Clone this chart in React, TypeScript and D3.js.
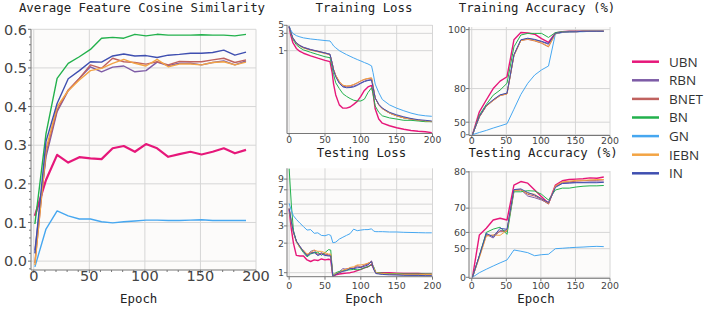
import React from 'react';
import * as d3 from 'd3';

// ---------- data ----------
const seriesNames = ['UBN', 'RBN', 'BNET', 'BN', 'GN', 'IEBN', 'IN'];
const seriesColors = ['#e6177a', '#7d5ba6', '#c0625f', '#22b14c', '#46a7f0', '#f3a444', '#3f4fb0'];

const simEpochs = [1, 11, 21, 31, 41, 51, 61, 71, 81, 91, 101, 111, 121, 131, 141, 151, 161, 171, 181, 191];
const simUBN = [0.117, 0.21, 0.275, 0.255, 0.269, 0.266, 0.264, 0.292, 0.298, 0.283, 0.303, 0.292, 0.27, 0.277, 0.283, 0.276, 0.283, 0.292, 0.279, 0.288];
const simRBN = [0.028, 0.27, 0.387, 0.441, 0.473, 0.503, 0.49, 0.502, 0.505, 0.49, 0.493, 0.515, 0.506, 0.512, 0.512, 0.508, 0.514, 0.518, 0.508, 0.518];
const simBNET = [-0.005, 0.28, 0.391, 0.443, 0.473, 0.508, 0.499, 0.525, 0.516, 0.514, 0.51, 0.516, 0.508, 0.517, 0.516, 0.516, 0.521, 0.525, 0.514, 0.521];
const simBN = [0.096, 0.33, 0.473, 0.512, 0.529, 0.548, 0.577, 0.579, 0.577, 0.587, 0.583, 0.587, 0.585, 0.585, 0.585, 0.586, 0.585, 0.585, 0.583, 0.587];
const simGN = [-0.015, 0.083, 0.13, 0.117, 0.109, 0.109, 0.102, 0.099, 0.102, 0.104, 0.106, 0.106, 0.105, 0.105, 0.106, 0.107, 0.105, 0.105, 0.105, 0.105];
const simIEBN = [-0.01, 0.29, 0.4, 0.441, 0.469, 0.493, 0.499, 0.512, 0.522, 0.512, 0.505, 0.522, 0.503, 0.51, 0.51, 0.508, 0.514, 0.516, 0.508, 0.515];
const simIN = [0.02, 0.31, 0.408, 0.472, 0.493, 0.516, 0.515, 0.531, 0.536, 0.531, 0.532, 0.527, 0.533, 0.535, 0.538, 0.538, 0.54, 0.546, 0.533, 0.541];

const lossEpochs = [0, 2, 5, 10, 15, 20, 30, 40, 50, 57, 60, 62, 65, 70, 75, 80, 85, 90, 95, 100, 105, 110, 115, 117, 120, 125, 130, 140, 150, 160, 170, 180, 190, 199];
const trainLossUBN = [4.6, 2.8, 1.7, 1.15, 0.95, 0.85, 0.72, 0.62, 0.54, 0.5, 0.25, 0.12, 0.06, 0.032, 0.026, 0.026, 0.028, 0.033, 0.04, 0.055, 0.08, 0.1, 0.11, 0.07, 0.025, 0.013, 0.01, 0.0085, 0.0075, 0.0068, 0.0063, 0.006, 0.0058, 0.0055];
const trainLossRBN = [4.6, 3.4, 2.3, 1.65, 1.4, 1.25, 1.08, 0.97, 0.87, 0.8, 0.46, 0.3, 0.2, 0.13, 0.105, 0.1, 0.1, 0.105, 0.115, 0.13, 0.145, 0.155, 0.16, 0.1, 0.05, 0.033, 0.026, 0.019, 0.016, 0.014, 0.013, 0.012, 0.0115, 0.011];
const trainLossBNET = [4.6, 3.3, 2.2, 1.6, 1.35, 1.2, 1.05, 0.95, 0.85, 0.78, 0.45, 0.3, 0.21, 0.14, 0.11, 0.105, 0.107, 0.115, 0.128, 0.145, 0.16, 0.17, 0.175, 0.11, 0.05, 0.032, 0.025, 0.019, 0.016, 0.014, 0.013, 0.012, 0.0115, 0.011];
const trainLossBN = [4.6, 3.2, 2.1, 1.45, 1.2, 1.05, 0.9, 0.78, 0.68, 0.64, 0.35, 0.22, 0.13, 0.09, 0.065, 0.055, 0.048, 0.043, 0.041, 0.041, 0.046, 0.07, 0.095, 0.065, 0.03, 0.02, 0.016, 0.014, 0.013, 0.012, 0.012, 0.0115, 0.011, 0.011];
const trainLossGN = [4.8, 3.8, 3.0, 2.6, 2.4, 2.25, 2.1, 2.0, 1.9, 1.85, 1.55, 1.35, 1.2, 1.0, 0.88, 0.78, 0.7, 0.63, 0.57, 0.52, 0.47, 0.43, 0.38, 0.25, 0.12, 0.07, 0.045, 0.032, 0.026, 0.022, 0.019, 0.017, 0.016, 0.0155];
const trainLossIEBN = [4.6, 3.3, 2.2, 1.58, 1.33, 1.18, 1.03, 0.93, 0.84, 0.77, 0.45, 0.3, 0.21, 0.14, 0.112, 0.106, 0.108, 0.117, 0.13, 0.148, 0.163, 0.172, 0.178, 0.11, 0.05, 0.032, 0.025, 0.019, 0.016, 0.014, 0.013, 0.0122, 0.0116, 0.0112];
const trainLossIN = [4.6, 3.35, 2.25, 1.62, 1.37, 1.22, 1.06, 0.96, 0.86, 0.79, 0.45, 0.29, 0.19, 0.125, 0.1, 0.095, 0.096, 0.1, 0.11, 0.125, 0.14, 0.15, 0.155, 0.1, 0.05, 0.033, 0.026, 0.02, 0.017, 0.015, 0.0135, 0.0125, 0.012, 0.0115];

const testEpochs = [0, 3, 6, 10, 15, 20, 25, 30, 35, 40, 45, 50, 55, 58, 61, 65, 70, 75, 80, 85, 90, 95, 100, 105, 110, 115, 118, 121, 125, 130, 140, 150, 160, 170, 180, 190, 199];
const testLossUBN = [4.4, 2.8, 2.0, 1.5, 1.48, 1.48, 1.35, 1.3, 1.35, 1.33, 1.38, 1.35, 1.37, 1.35, 0.91, 0.95, 0.97, 0.98, 0.99, 1.0, 1.02, 1.05, 1.08, 1.12, 1.15, 1.22, 1.1, 1.0, 1.0, 1.0, 1.0, 0.99, 0.98, 0.98, 0.98, 0.97, 0.97];
const testLossRBN = [4.5, 3.3, 2.6, 2.1, 1.85, 1.65, 1.5, 1.65, 1.7, 1.5, 1.6, 1.52, 1.5, 1.5, 0.92, 0.97, 1.02, 1.1, 1.08, 1.12, 1.1, 1.15, 1.13, 1.2, 1.22, 1.32, 1.1, 0.99, 0.98, 0.97, 0.96, 0.95, 0.95, 0.94, 0.94, 0.94, 0.94];
const testLossBNET = [4.5, 3.3, 2.6, 2.1, 1.85, 1.65, 1.52, 1.6, 1.62, 1.55, 1.58, 1.55, 1.52, 1.52, 0.92, 0.97, 1.0, 1.05, 1.1, 1.1, 1.12, 1.18, 1.15, 1.18, 1.25, 1.3, 1.1, 1.0, 0.99, 0.98, 0.97, 0.97, 0.96, 0.96, 0.96, 0.96, 0.96];
const testLossBN = [11.5, 5.0, 2.7, 2.1, 1.8, 1.6, 1.45, 1.55, 1.6, 1.62, 1.5, 1.6, 1.72, 1.7, 0.93, 1.0, 1.03, 1.05, 1.06, 1.07, 1.08, 1.07, 1.08, 1.12, 1.15, 1.2, 1.15, 1.0, 1.0, 0.99, 0.98, 0.98, 0.97, 0.97, 0.97, 0.97, 0.97];
const testLossGN = [5.1, 4.3, 3.8, 3.5, 3.2, 2.95, 2.72, 2.75, 2.52, 2.55, 2.4, 2.38, 2.45, 2.4, 2.02, 2.05, 2.2, 2.3, 2.4, 2.5, 2.78, 2.68, 2.72, 2.75, 2.75, 2.8, 2.65, 2.62, 2.62, 2.62, 2.6, 2.6, 2.58, 2.57, 2.56, 2.55, 2.55];
const testLossIEBN = [4.5, 3.2, 2.55, 2.05, 1.8, 1.7, 1.55, 1.6, 1.7, 1.65, 1.65, 1.6, 1.55, 1.55, 0.92, 0.98, 1.0, 1.06, 1.08, 1.13, 1.15, 1.2, 1.2, 1.22, 1.25, 1.28, 1.12, 1.0, 0.99, 0.98, 0.97, 0.97, 0.96, 0.96, 0.96, 0.96, 0.96];
const testLossIN = [4.5, 3.3, 2.6, 2.1, 1.85, 1.65, 1.48, 1.58, 1.6, 1.5, 1.55, 1.5, 1.48, 1.48, 0.92, 0.96, 1.0, 1.03, 1.05, 1.1, 1.1, 1.12, 1.13, 1.16, 1.2, 1.3, 1.08, 0.98, 0.97, 0.96, 0.95, 0.95, 0.94, 0.94, 0.94, 0.93, 0.93];

const accEpochs = [1, 11, 21, 31, 41, 51, 61, 71, 81, 91, 101, 111, 121, 131, 141, 151, 161, 171, 181, 191];
const trainAccUBN = [0, 63.5, 73.2, 80, 83.6, 85.5, 97.5, 99.3, 99.2, 98.9, 97.8, 96.8, 99.2, 99.5, 99.6, 99.6, 99.6, 99.6, 99.6, 99.6];
const trainAccRBN = [0, 58, 68.9, 73.2, 76.3, 77.3, 93.2, 97.4, 97.8, 97.5, 97.0, 96.3, 99.0, 99.4, 99.5, 99.5, 99.6, 99.6, 99.6, 99.6];
const trainAccBNET = [0, 57.5, 68.5, 72.8, 76.0, 77.0, 93.0, 97.3, 97.6, 97.2, 96.6, 95.6, 99.0, 99.4, 99.5, 99.5, 99.6, 99.6, 99.6, 99.6];
const trainAccBN = [0, 60, 70, 76.3, 79.2, 82.6, 95.6, 98.7, 99.1, 99.1, 99.1, 98.1, 99.3, 99.5, 99.6, 99.6, 99.6, 99.6, 99.6, 99.6];
const trainAccGN = [0, 19, 29, 37, 42.5, 47.2, 66, 76.7, 82.6, 86.2, 88.2, 89.6, 99.0, 99.3, 99.4, 99.5, 99.5, 99.6, 99.6, 99.6];
const trainAccIEBN = [0, 57.8, 68.7, 73.0, 76.1, 77.1, 93.1, 97.3, 97.7, 97.3, 96.7, 95.7, 99.0, 99.4, 99.5, 99.5, 99.6, 99.6, 99.6, 99.6];
const trainAccIN = [0, 58.2, 69.1, 73.4, 76.5, 77.5, 93.3, 97.5, 97.9, 97.6, 97.1, 96.5, 99.1, 99.4, 99.5, 99.5, 99.6, 99.6, 99.6, 99.6];

const testAccUBN = [0, 58.7, 62, 65.6, 66.3, 65.6, 76.8, 77.7, 77.3, 75.5, 73.6, 71.6, 76.8, 77.9, 78.2, 78.3, 78.4, 78.6, 78.5, 78.8];
const testAccRBN = [0, 44, 59, 57, 61, 61, 75.5, 75.6, 73.8, 73.3, 72.6, 71.5, 76.4, 77.3, 77.4, 77.5, 77.5, 77.6, 77.6, 77.6];
const testAccBNET = [0, 43, 58.5, 58.5, 60.5, 60.5, 75.4, 75.5, 74.3, 73.8, 72.8, 71.3, 76.5, 77.5, 77.6, 77.8, 77.9, 78.0, 78.0, 78.1];
const testAccBN = [0, 44, 60, 61.6, 62.5, 59, 75.0, 75.0, 75.3, 75.2, 74.3, 72.6, 75.5, 76, 76, 76.3, 76.5, 76.6, 76.6, 76.7];
const testAccGN = [0, 17.7, 25.7, 31.5, 36, 39.6, 49, 48, 46.8, 44, 45, 45.4, 50, 50.3, 50.7, 51, 51.2, 51.5, 51.7, 51.5];
const testAccIEBN = [0, 42, 58, 58.6, 58.5, 61, 75.3, 75.6, 74.6, 74.3, 73.0, 71.6, 76.6, 77.6, 77.8, 78.0, 78.0, 78.1, 78.2, 78.2];
const testAccIN = [0, 44, 59.5, 57.7, 62, 61.5, 75.6, 75.8, 74.8, 74.1, 73.0, 71.8, 76.2, 77.2, 77.3, 77.4, 77.4, 77.4, 77.4, 77.5];

const simTicks = [0, 0.1, 0.2, 0.3, 0.4, 0.5, 0.6];
const epochTicks = [0, 50, 100, 150, 200];
const trainLossTicks = [1, 3, 5];
const testLossTicks = [1, 2, 3, 4, 5, 7, 9];
const trainAccTicks = [0, 50, 80, 100];
const testAccTicks = [0, 50, 60, 70, 80];

// ---------- helpers ----------
const MONO = '"DejaVu Sans Mono", monospace';
const SANS = '"DejaVu Sans", sans-serif';
const BG = '#fcfbfa';
const GRID = '#d6d6d6';
const AXIS = '#777';
const TICKTXT = '#444';

const expScale = (domain: number[], range: number[]) => {
  const lin = d3.scaleLinear().domain(domain.map((v) => Math.exp(v / 25))).range(range);
  return (v: number) => lin(Math.exp(v / 25));
};

type Ser = { name: string; color: string; values: number[] };
const mk = (arrs: number[][]): Ser[] => arrs.map((values, i) => ({ name: seriesNames[i], color: seriesColors[i], values }));

const simSeries = mk([simUBN, simRBN, simBNET, simBN, simGN, simIEBN, simIN]);
const trainLossSeries = mk([trainLossUBN, trainLossRBN, trainLossBNET, trainLossBN, trainLossGN, trainLossIEBN, trainLossIN]);
const testLossSeries = mk([testLossUBN, testLossRBN, testLossBNET, testLossBN, testLossGN, testLossIEBN, testLossIN]);
const trainAccSeries = mk([trainAccUBN, trainAccRBN, trainAccBNET, trainAccBN, trainAccGN, trainAccIEBN, trainAccIN]);
const testAccSeries = mk([testAccUBN, testAccRBN, testAccBNET, testAccBN, testAccGN, testAccIEBN, testAccIN]);

type PanelCfg = {
  id: string;
  x: (v: number) => number;
  y: (v: number) => number;
  left: number; right: number; top: number; bottom: number;
  yTicks: number[];
  yFmt: (v: number) => string;
  epochs: number[];
  series: Ser[];
  title: string; titleX: number; titleY: number;
  xlabel?: boolean; xlabelX?: number; xlabelY?: number;
  fs: number; xTickY: number; yTickGap: number;
  lw: number; ubnW: number;
  minorY?: number[]; minorX?: number[];
  yOffsets?: Record<string, number>;
};

function Panel(p: PanelCfg) {
  const line = (vals: number[]) =>
    d3.line<number>()
      .x((_, i) => p.x(p.epochs[i]))
      .y((d) => p.y(d))(vals) || '';
  return (
    <g>
      <defs>
        <clipPath id={p.id}>
          <rect x={p.left} y={p.top} width={p.right - p.left} height={p.bottom - p.top} />
        </clipPath>
      </defs>
      <rect x={p.left} y={p.top} width={p.right - p.left} height={p.bottom - p.top} fill={BG} />
      {epochTicks.map((t) => (
        <line key={'gx' + t} x1={p.x(t)} x2={p.x(t)} y1={p.top} y2={p.bottom} stroke={GRID} strokeWidth={1} />
      ))}
      {p.yTicks.map((t) => (
        <line key={'gy' + t} x1={p.left} x2={p.right} y1={p.y(t)} y2={p.y(t)} stroke={GRID} strokeWidth={1} />
      ))}
      <g clipPath={`url(#${p.id})`}>
        {p.series.map((s) => (
          <path key={s.name} d={line(s.values)} fill="none" stroke={s.color}
            strokeWidth={s.name === 'UBN' ? p.ubnW : p.lw} strokeLinejoin="round" />
        ))}
      </g>
      <line x1={p.left} x2={p.left} y1={p.top} y2={p.bottom} stroke={AXIS} strokeWidth={1} />
      <line x1={p.left} x2={p.right} y1={p.bottom} y2={p.bottom} stroke={AXIS} strokeWidth={1} />
      {p.yTicks.map((t) => (
        <g key={'ty' + t}>
          <line x1={p.left - 3} x2={p.left} y1={p.y(t)} y2={p.y(t)} stroke={AXIS} />
          <text x={p.left - p.yTickGap} y={p.y(t) + ((p.yOffsets || {})[String(t)] || 0)} dy="0.36em" textAnchor="end"
            fontFamily={SANS} fontSize={p.fs} fill={TICKTXT}>
            {p.yFmt(t)}
          </text>
        </g>
      ))}
      {(p.minorY || []).map((t) => (
        <line key={'my' + t} x1={p.left - 2} x2={p.left} y1={p.y(t)} y2={p.y(t)} stroke={AXIS} />
      ))}
      {(p.minorX || []).map((t) => (
        <line key={'mx' + t} x1={p.x(t)} x2={p.x(t)} y1={p.bottom} y2={p.bottom + 2} stroke={AXIS} />
      ))}
      {epochTicks.map((t) => (
        <g key={'tx' + t}>
          <line x1={p.x(t)} x2={p.x(t)} y1={p.bottom} y2={p.bottom + 3} stroke={AXIS} />
          <text x={p.x(t)} y={p.xTickY} textAnchor="middle" fontFamily={SANS} fontSize={p.fs} fill={TICKTXT}>
            {t}
          </text>
        </g>
      ))}
      <text x={p.titleX} y={p.titleY} textAnchor="middle" fontFamily={MONO} fontSize={12.4} fill="#222">
        {p.title}
      </text>
      {p.xlabel && (
        <text x={p.xlabelX} y={p.xlabelY} textAnchor="middle" fontFamily={MONO} fontSize={12.4} fill="#222">
          Epoch
        </text>
      )}
    </g>
  );
}

export default function App() {
  const simX = d3.scaleLinear().domain([-2.5, 200]).range([31, 256]);
  const simY = d3.scaleLinear().domain([-0.023, 0.6]).range([270, 29.3]);
  const lossX = d3.scaleLinear().domain([-3, 200]).range([287, 432.5]);
  const accX = d3.scaleLinear().domain([-4, 200]).range([469, 610]);
  const trainLossY = d3.scaleLog().domain([0.0052, 5.1]).range([133.5, 25]);
  const testLossY = d3.scaleLog().domain([0.91, 11.6]).range([276.7, 168.3]);
  const trainAccY = expScale([-13, 100.6], [135.5, 27]);
  const testAccY = expScale([-6.3, 80.2], [278.3, 171]);

  const minorSim = [-0.02, 0.02, 0.04, 0.06, 0.08, 0.12, 0.14, 0.16, 0.18, 0.22, 0.24, 0.26, 0.28, 0.32, 0.34, 0.36, 0.38, 0.42, 0.44, 0.46, 0.48, 0.52, 0.54, 0.56, 0.58];
  const minorEp = [10, 20, 30, 40, 60, 70, 80, 90, 110, 120, 130, 140, 160, 170, 180, 190];

  const legendTop = 61.7;
  const legendStep = 18.6;

  return (
    <svg width={706} height={310} style={{ position: 'absolute', left: 0, top: 0, background: '#fff' }}>
      <Panel id="c1" x={simX} y={simY} left={31} right={256} top={29.3} bottom={270}
        yTicks={simTicks} yFmt={(v) => v.toFixed(1)} epochs={simEpochs} series={simSeries}
        title="Average Feature Cosine Similarity" titleX={142} titleY={11.5}
        xlabel xlabelX={138.7} xlabelY={303}
        fs={14.5} xTickY={281} yTickGap={4} lw={1.4} ubnW={2.2}
        minorY={minorSim} minorX={minorEp} />
      <Panel id="c2" x={lossX} y={trainLossY} left={287} right={432.5} top={25} bottom={133.5}
        yTicks={trainLossTicks} yFmt={(v) => String(v)} epochs={lossEpochs} series={trainLossSeries}
        title="Training Loss" titleX={364} titleY={11.5}
        fs={9.2} xTickY={142.5} yTickGap={3} lw={1} ubnW={1.4}
        yOffsets={{ '5': -0.8, '3': 0.6 }} />
      <Panel id="c3" x={accX} y={trainAccY} left={469} right={610} top={27} bottom={135.5}
        yTicks={trainAccTicks} yFmt={(v) => String(v)} epochs={accEpochs} series={trainAccSeries}
        title="Training Accuracy (%)" titleX={537} titleY={11.5}
        fs={9.4} xTickY={143.5} yTickGap={3} lw={1} ubnW={1.4} />
      <Panel id="c4" x={lossX} y={testLossY} left={287} right={432.5} top={168.3} bottom={276.7}
        yTicks={testLossTicks} yFmt={(v) => String(v)} epochs={testEpochs} series={testLossSeries}
        title="Testing Loss" titleX={361.5} titleY={157}
        xlabel xlabelX={364} xlabelY={303}
        fs={9.4} xTickY={288.5} yTickGap={3} lw={1} ubnW={1.4} />
      <Panel id="c5" x={accX} y={testAccY} left={469} right={610} top={171} bottom={278.3}
        yTicks={testAccTicks} yFmt={(v) => String(v)} epochs={accEpochs} series={testAccSeries}
        title="Testing Accuracy (%)" titleX={543} titleY={157}
        xlabel xlabelX={536} xlabelY={303}
        fs={9.4} xTickY={289} yTickGap={3} lw={1} ubnW={1.4} />
      <g>
        {seriesNames.map((n, i) => (
          <g key={n} transform={`translate(0,${legendTop + i * legendStep})`}>
            <line x1={632} x2={659} y1={0} y2={0} stroke={seriesColors[i]} strokeWidth={2.5} />
            <text x={669} y={0} dy="0.36em" fontFamily='"Open Sans", sans-serif' fontSize={13.5} fill="#333">
              {n}
            </text>
          </g>
        ))}
      </g>
    </svg>
  );
}
